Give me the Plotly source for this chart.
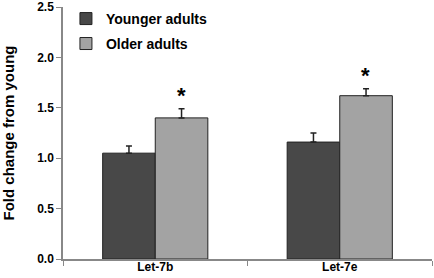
import plotly.graph_objects as go

categories = ["Let-7b", "Let-7e"]
younger = [1.05, 1.16]
younger_err = [0.07, 0.09]
older = [1.40, 1.62]
older_err = [0.09, 0.07]
y_ticks = [0.0, 0.5, 1.0, 1.5, 2.0, 2.5]
y_tick_labels = ["0.0", "0.5", "1.0", "1.5", "2.0", "2.5"]

font_family = "Liberation Sans, Arial, sans-serif"

fig = go.Figure()
fig.add_trace(go.Bar(
    x=categories, y=younger, name="<b>Younger adults</b>", legend="legend",
    marker=dict(color="#484848", line=dict(color="#222222", width=1)),
    error_y=dict(type="data", symmetric=False, array=younger_err,
                 arrayminus=[0, 0], color="#222222", thickness=1.5, width=3),
))
fig.add_trace(go.Bar(
    x=categories, y=older, name="<b>Older adults</b>", legend="legend2",
    marker=dict(color="#a3a3a3", line=dict(color="#222222", width=1)),
    error_y=dict(type="data", symmetric=False, array=older_err,
                 arrayminus=[0, 0], color="#222222", thickness=1.5, width=3),
))

for c, v, e in zip(categories, older, older_err):
    fig.add_annotation(x=c, y=v + e, text="<b>*</b>", showarrow=False,
                       xshift=26, yshift=13,
                       font=dict(size=22, color="black", family=font_family))

legend_style = dict(xanchor="left", yanchor="top",
                    font=dict(size=14, color="black", family=font_family),
                    bgcolor="rgba(0,0,0,0)", itemwidth=30)

fig.update_layout(
    width=434, height=278,
    margin=dict(l=63, r=2, t=7, b=19),
    plot_bgcolor="white", paper_bgcolor="white",
    barmode="group", bargap=0.43, bargroupgap=0,
    font=dict(family=font_family, color="black"),
    showlegend=True,
    legend=dict(x=0.008, y=1.016, **legend_style),
    legend2=dict(x=0.008, y=0.917, **legend_style),
    xaxis=dict(showline=True, linecolor="#888888", linewidth=1.5,
               automargin=False,
               ticks="outside", tickson="boundaries", ticklen=5,
               tickcolor="#888888", ticklabelstandoff=-4,
               tickfont=dict(size=12, color="black", family=font_family),
               tickvals=categories,
               ticktext=["<b>" + c + "</b>" for c in categories]),
    yaxis=dict(range=[0, 2.5], showline=True, linecolor="#888888", linewidth=1.5,
               automargin=False, ticklabeloverflow="allow",
               ticks="outside", ticklen=5, tickcolor="#888888",
               showgrid=False, zeroline=False,
               tickvals=y_ticks,
               ticktext=["<b>" + t + "</b>" for t in y_tick_labels],
               tickfont=dict(size=12, color="black", family=font_family),
               title=dict(text="<b>Fold change from young</b>",
                          font=dict(size=15, color="black", family=font_family),
                          standoff=22)),
)

fig.write_html("out.html", config={"displayModeBar": False},
               post_script="document.body.style.margin='0px';")
